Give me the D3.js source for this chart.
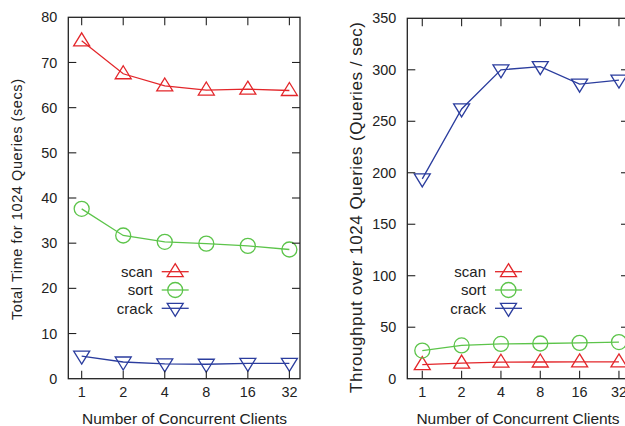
<!DOCTYPE html>
<html>
<head>
<meta charset="utf-8">
<script src="https://cdn.jsdelivr.net/npm/d3@7"></script>
<style>
  body { margin: 0; background: #fff; }
  svg { display: block; }
  text { font-family: "Liberation Sans", Arial, sans-serif; fill: #222; }
</style>
</head>
<body>
<div id="chart"></div>
<script>
// datos
var clients = [1, 2, 4, 8, 16, 32];
var seriesNames = ["scan", "sort", "crack"];
var seriesColors = ["#e3262a", "#5cc44a", "#2b3d9e"];

var timeScan = [74.8, 67.5, 64.8, 63.9, 64.1, 63.8];
var timeSort = [37.6, 31.7, 30.3, 29.9, 29.4, 28.6];
var timeCrack = [5.0, 3.7, 3.3, 3.2, 3.4, 3.4];

var tputScan = [13.7, 15.2, 16.0, 16.2, 16.3, 16.3];
var tputSort = [27.3, 32.3, 33.8, 34.2, 34.8, 35.6];
var tputCrack = [194, 262, 300, 303, 286, 290];

var timeTicks = [0, 10, 20, 30, 40, 50, 60, 70, 80];
var tputTicks = [0, 50, 100, 150, 200, 250, 300, 350];

var W = 625, H = 426;
var svg = d3.select("#chart").append("svg")
    .attr("width", W)
    .attr("height", H);

var tickFont = 14.4;
var legendFont = 15;
var xTitleFont = 15.5;

function marker(g, name, color) {
    if (name === "sort") {
        g.append("circle").attr("r", 7.5)
            .attr("fill", "none").attr("stroke", color).attr("stroke-width", 1.3);
    } else {
        var up = name === "scan";
        var pts = up ? [[0, -8], [8, 5], [-8, 5]] : [[0, 8], [8, -5], [-8, -5]];
        g.append("path").attr("d", d3.line()(pts) + "Z")
            .attr("fill", "none").attr("stroke", color).attr("stroke-width", 1.3);
    }
}

function drawPanel(cfg) {
    var x = d3.scaleLog().base(2).domain(cfg.xDomain).range([cfg.left, cfg.right]);
    var y = d3.scaleLinear().domain([0, cfg.yMax]).range([cfg.bottom, cfg.top]);

    var g = svg.append("g");

    // lineas y marcadores
    cfg.series.forEach(function (vals, i) {
        var color = seriesColors[i];
        var pts = clients.map(function (c, j) { return [x(c), y(vals[j])]; });
        g.append("path").attr("d", d3.line()(pts))
            .attr("fill", "none").attr("stroke", color).attr("stroke-width", 1.3);
        pts.forEach(function (p) {
            marker(g.append("g").attr("transform", "translate(" + p[0] + "," + p[1] + ")"), seriesNames[i], color);
        });
    });

    // marco
    g.append("rect")
        .attr("x", cfg.left).attr("y", cfg.top)
        .attr("width", cfg.right - cfg.left).attr("height", cfg.bottom - cfg.top)
        .attr("fill", "none").attr("stroke", "#222").attr("stroke-width", 1.3);

    // eje y (ticks hacia adentro en ambos lados)
    cfg.yTicks.forEach(function (t) {
        var yy = y(t);
        if (t > 0 && t < cfg.yMax) {
            g.append("line").attr("x1", cfg.left).attr("x2", cfg.left + 8).attr("y1", yy).attr("y2", yy)
                .attr("stroke", "#222").attr("stroke-width", 1.1);
            g.append("line").attr("x1", cfg.right).attr("x2", cfg.right - 8).attr("y1", yy).attr("y2", yy)
                .attr("stroke", "#222").attr("stroke-width", 1.1);
        }
        g.append("text").attr("x", cfg.left - 11).attr("y", yy)
            .attr("dy", "0.35em").attr("text-anchor", "end")
            .style("font-size", tickFont + "px").text(t);
    });

    // eje x
    clients.forEach(function (c) {
        var xx = x(c);
        g.append("line").attr("x1", xx).attr("x2", xx).attr("y1", cfg.bottom).attr("y2", cfg.bottom - 8)
            .attr("stroke", "#222").attr("stroke-width", 1.1);
        g.append("line").attr("x1", xx).attr("x2", xx).attr("y1", cfg.top).attr("y2", cfg.top + 8)
            .attr("stroke", "#222").attr("stroke-width", 1.1);
        g.append("text").attr("x", xx).attr("y", 396.5)
            .attr("text-anchor", "middle")
            .style("font-size", tickFont + "px").text(c);
    });

    g.append("text").attr("x", cfg.xTitleX).attr("y", 424)
        .attr("text-anchor", "middle").style("font-size", xTitleFont + "px")
        .attr("textLength", cfg.xTitleLen).attr("lengthAdjust", "spacing")
        .text("Number of Concurrent Clients");

    g.append("text")
        .attr("transform", "translate(" + cfg.yTitleX + "," + cfg.yTitleY + ") rotate(-90)")
        .attr("text-anchor", "middle").style("font-size", cfg.yTitleFont + "px")
        .attr("textLength", cfg.yTitleLen).attr("lengthAdjust", "spacing")
        .text(cfg.yTitle);

    // leyenda
    seriesNames.forEach(function (n, i) {
        var ly = 271.7 + i * 18.3;
        var color = seriesColors[i];
        g.append("text").attr("x", cfg.legendX).attr("y", ly).attr("dy", "0.35em")
            .attr("text-anchor", "end").style("font-size", legendFont + "px").text(n);
        g.append("line").attr("x1", cfg.legendX + 9).attr("x2", cfg.legendX + 36)
            .attr("y1", ly).attr("y2", ly).attr("stroke", color).attr("stroke-width", 1.3);
        marker(g.append("g").attr("transform", "translate(" + (cfg.legendX + 22.5) + "," + ly + ")"), n, color);
    });
}

drawPanel({
    left: 68.3, right: 300, top: 17.3, bottom: 378.7,
    xDomain: [0.8, 38.2], yMax: 80, yTicks: timeTicks,
    series: [timeScan, timeSort, timeCrack],
    yTitle: "Total Time for 1024 Queries (secs)", yTitleX: 22, yTitleY: 199.5,
    yTitleFont: 14.5, yTitleLen: 241,
    xTitleX: 184.5, xTitleLen: 205, legendX: 152.7
});

drawPanel({
    left: 407.3, right: 629, top: 18.3, bottom: 378.7,
    xDomain: [0.768, 38.2], yMax: 350, yTicks: tputTicks,
    series: [tputScan, tputSort, tputCrack],
    yTitle: "Throughput over 1024 Queries (Queries / sec)", yTitleX: 362, yTitleY: 207.5,
    yTitleFont: 17, yTitleLen: 371,
    xTitleX: 518, xTitleLen: 203, legendX: 486
});
</script>
</body>
</html>
